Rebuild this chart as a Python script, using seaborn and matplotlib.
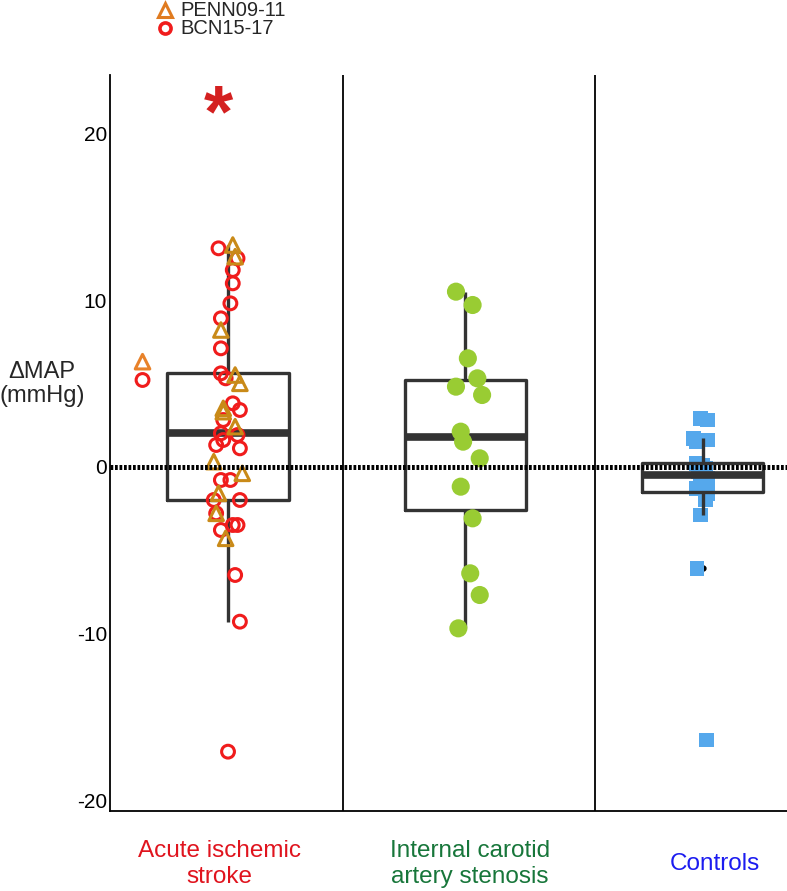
import matplotlib
matplotlib.use('Agg')
import matplotlib.pyplot as plt
from matplotlib.lines import Line2D
import seaborn as sns
import pandas as pd
import numpy as np

# values (mmHg)
groups = ['Acute ischemic\nstroke', 'Internal carotid\nartery stenosis', 'Controls']
group_colors = ['#E0141E', '#17763A', '#1C1CF0']

bcn_vals = [13.1, 12.5, 11.8, 11.0, 9.8, 8.9, 7.1, 5.6, 5.3, 3.8, 3.4, 2.8, 2.0, 1.9,
            1.6, 1.3, 1.1, -0.8, -0.8, -2.0, -2.0, -2.8, -3.5, -3.5, -3.8, -6.5, -9.3, -17.1]
bcn_jit = [-0.04, 0.04, 0.02, 0.02, 0.01, -0.03, -0.03, -0.03, -0.01, 0.02, 0.05, -0.02, -0.03, 0.04,
           -0.02, -0.05, 0.05, -0.03, 0.01, 0.05, -0.06, -0.05, 0.02, 0.04, -0.03, 0.03, 0.05, 0.0]
penn_vals = [13.3, 12.6, 8.2, 5.5, 5.0, 3.5, 3.3, 2.4, 0.3, -0.4, -1.6, -2.8, -4.3]
penn_jit = [0.02, 0.03, -0.03, 0.03, 0.05, -0.02, -0.02, 0.03, -0.06, 0.06, -0.04, -0.05, -0.01]
# the two markers drawn apart on the left of the stroke panel
side_penn = [6.3]
side_bcn = [5.2]
side_jit = -0.36

icas_vals = [10.5, 9.7, 6.5, 5.3, 4.8, 4.3, 2.1, 1.5, 0.5, -1.2, -3.1, -6.4, -7.7, -9.7]
icas_jit = [-0.04, 0.03, 0.01, 0.05, -0.04, 0.07, -0.02, -0.01, 0.06, -0.02, 0.03, 0.02, 0.06, -0.03]

ctrl_vals = [2.9, 2.8, 1.7, 1.6, 1.5, 0.2, 0.1, 0.0, -0.1, -0.3, -0.5, -0.7, -0.8, -1.0,
             -1.3, -1.5, -1.6, -2.0, -2.9, -6.1, -16.4]
ctrl_jit = [-0.01, 0.02, -0.04, 0.02, -0.03, -0.03, 0.0, -0.01, 0.01, -0.02, 0.01, 0.02, -0.01, 0.0,
            -0.03, 0.01, 0.02, 0.01, -0.01, -0.025, 0.015]

box_df = pd.DataFrame({
    'group': [groups[0]] * (len(bcn_vals) + len(penn_vals)) + [groups[1]] * len(icas_vals) + [groups[2]] * len(ctrl_vals),
    'dmap': bcn_vals + penn_vals + icas_vals + ctrl_vals,
})

sns.set_theme(style='white')
plt.rcParams['font.family'] = ['Liberation Sans', 'DejaVu Sans']

fig = plt.figure(figsize=(7.87, 8.91), dpi=100)
ax = fig.add_axes([110 / 787, 80 / 891, 677 / 787, 736 / 891])

sns.boxplot(data=box_df, x='group', y='dmap', order=groups, ax=ax, fill=False, color='#333333',
            width=0.51, linewidth=2.4, showcaps=False, whis=1.5,
            medianprops=dict(linewidth=5.5, color='#333333'),
            flierprops=dict(marker='o', markersize=3.5, markerfacecolor='black', markeredgecolor='black'))
# flier dots sit under the squares; the stroke panel shows none
for ln in ax.lines:
    xd = np.asarray(ln.get_xdata(), dtype=float)
    if ln.get_marker() == 'o' and len(xd):
        ln.set_zorder(1.2)
        if np.all(np.abs(xd) < 0.3):
            ln.set_visible(False)

tri_col = '#C98A18'
sns.scatterplot(x=np.array(bcn_jit) + 0, y=bcn_vals, ax=ax, marker='o', s=85,
                facecolors='none', edgecolors='#F01C1C', linewidth=2.2, zorder=4)
sns.scatterplot(x=np.array(penn_jit) + 0, y=penn_vals, ax=ax, marker='^', s=110,
                facecolors='none', edgecolors=tri_col, linewidth=2.2, zorder=4)
sns.scatterplot(x=[side_jit], y=side_penn, ax=ax, marker='^', s=110,
                facecolors='none', edgecolors='#E8822A', linewidth=2.2, zorder=4)
sns.scatterplot(x=[side_jit], y=side_bcn, ax=ax, marker='o', s=85,
                facecolors='none', edgecolors='#F01C1C', linewidth=2.2, zorder=4)
sns.scatterplot(x=np.array(icas_jit) + 1, y=icas_vals, ax=ax, marker='o', s=170,
                color='#99CC33', edgecolor='none', zorder=4)
sns.scatterplot(x=np.array(ctrl_jit) + 2, y=ctrl_vals, ax=ax, marker='s', s=110,
                color='#55A8EC', edgecolor='none', zorder=1.5)

ax.axhline(0, color='black', lw=3.6, ls=(0, (0.55, 0.35)), zorder=6)
for xd in (0.484, 1.545):
    ax.axvline(xd, color='black', lw=1.3, zorder=1)

ax.text(-0.04, 21.0, '*', color='#D42020', fontsize=54, ha='center', va='center', fontweight='bold')

ax.set_xlim(-0.497, 2.354)
ax.set_ylim(-20.66, 23.5)
ax.set_yticks([-20, -10, 0, 10, 20])
ax.set_yticklabels(['-20', '-10', '0', '10', '20'])
ax.set_xticks([-0.035, 1.02, 2.05])
ax.set_xticklabels(groups, linespacing=1.25, va='center')
ax.tick_params(axis='y', length=0, pad=2, labelsize=15, labelcolor='black')
ax.tick_params(axis='x', length=0, pad=38, labelsize=17.5)
for lab, c in zip(ax.get_xticklabels(), group_colors):
    lab.set_color(c)
ax.set_xlabel('')
ax.set_ylabel('')
for s in ('top', 'right'):
    ax.spines[s].set_visible(False)
for s in ('left', 'bottom'):
    ax.spines[s].set_color('black')
    ax.spines[s].set_linewidth(1.3)

fig.text(42 / 787, 1 - 384 / 891, '\u0394MAP\n(mmHg)', ha='center', va='center', fontsize=17,
         linespacing=1.15)

# legend drawn by hand so the rows sit as close as in the reference
fig.add_artist(Line2D([165 / 787], [1 - 10 / 891], transform=fig.transFigure, marker='^', ls='none',
                      markersize=10, markerfacecolor='none', markeredgecolor='#E07B20', markeredgewidth=2.2))
fig.add_artist(Line2D([165 / 787], [1 - 28 / 891], transform=fig.transFigure, marker='o', ls='none',
                      markersize=8, markerfacecolor='none', markeredgecolor='#F01C1C', markeredgewidth=2.6))
fig.text(180 / 787, 1 - 11 / 891, 'PENN09-11', va='center', ha='left', fontsize=14.5)
fig.text(180 / 787, 1 - 29 / 891, 'BCN15-17', va='center', ha='left', fontsize=14.5)

fig.savefig('out.png', dpi=100)
